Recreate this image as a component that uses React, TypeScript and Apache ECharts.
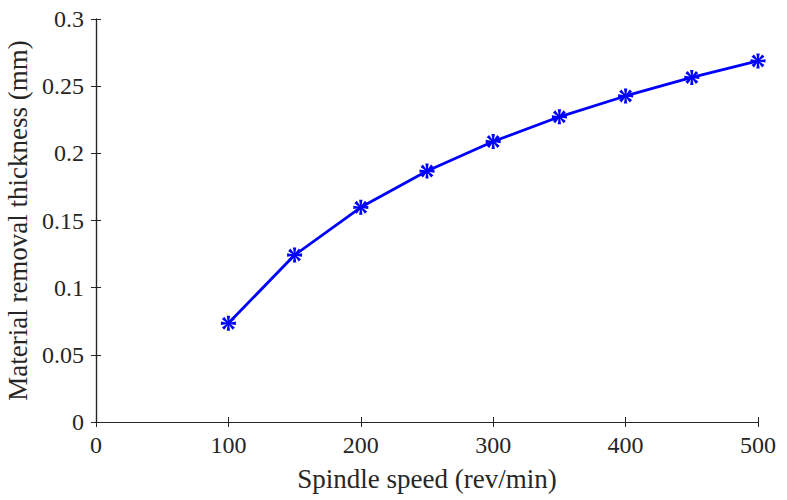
import React, { useEffect, useRef } from "react";
import * as echarts from "echarts";

const speeds = [100, 150, 200, 250, 300, 350, 400, 450, 500];
const thickness = [0.0735, 0.1243, 0.1598, 0.1868, 0.2088, 0.2272, 0.2427, 0.2565, 0.2688];
const xTitle = "Spindle speed (rev/min)";
const yTitle = "Material removal thickness (mm)";

function asteriskPath(): string {
  const arms = 8;
  const w = 0.22;
  const rin = 0.3;
  const pts: string[] = [];
  for (let k = 0; k < arms; k++) {
    const a = (k * Math.PI * 2) / arms;
    const ca = Math.cos(a), sa = Math.sin(a);
    const px = -sa, py = ca;
    pts.push(`${(ca + px * -w).toFixed(3)} ${(sa + py * -w).toFixed(3)}`);
    pts.push(`${(ca + px * w).toFixed(3)} ${(sa + py * w).toFixed(3)}`);
    const b = a + Math.PI / arms;
    pts.push(`${(Math.cos(b) * rin).toFixed(3)} ${(Math.sin(b) * rin).toFixed(3)}`);
  }
  return "path://M" + pts.join(" L") + " Z";
}

export default function App() {
  const ref = useRef<HTMLDivElement>(null);
  useEffect(() => {
    if (!ref.current) return;
    const chart = echarts.init(ref.current, undefined, { renderer: "svg" });
    const font = "'Liberation Serif', 'Times New Roman', serif";
    const axisLine = { show: true, lineStyle: { color: "#262626", width: 1.2 } };
    const tick = { show: true, inside: true, length: 5, lineStyle: { color: "#262626", width: 1 } };
    chart.setOption({
      animation: false,
      backgroundColor: "#ffffff",
      grid: { left: 96, right: 29, top: 19, bottom: 78, containLabel: false, outerBoundsMode: "none" },
      xAxis: [
        {
          type: "value",
          min: 0,
          max: 500,
          interval: 100,
          name: xTitle,
          nameLocation: "middle",
          nameGap: 43,
          nameTextStyle: { fontFamily: font, fontSize: 27, color: "#262626" },
          axisLine,
          axisTick: tick,
          axisLabel: { fontFamily: font, fontSize: 24, color: "#262626", margin: 11 },
          splitLine: { show: false },
        },
        {
          type: "value",
          position: "top",
          min: 0,
          max: 500,
          interval: 100,
          axisLine,
          axisTick: tick,
          axisLabel: { show: false },
          splitLine: { show: false },
        },
      ],
      yAxis: [
        {
          type: "value",
          min: 0,
          max: 0.3,
          interval: 0.05,
          name: yTitle,
          nameLocation: "middle",
          nameGap: 60,
          nameTextStyle: { fontFamily: font, fontSize: 27, color: "#262626" },
          axisLine,
          axisTick: tick,
          axisLabel: { fontFamily: font, fontSize: 24, color: "#262626", margin: 12 },
          splitLine: { show: false },
        },
        {
          type: "value",
          position: "right",
          min: 0,
          max: 0.3,
          interval: 0.05,
          axisLine,
          axisTick: tick,
          axisLabel: { show: false },
          splitLine: { show: false },
        },
      ],
      series: [
        {
          type: "line",
          data: speeds.map((s, i) => [s, thickness[i]]),
          symbol: asteriskPath(),
          symbolSize: 15,
          showAllSymbol: true,
          lineStyle: { color: "#0000ff", width: 2.8 },
          itemStyle: { color: "#0000ff" },
        },
      ],
    });
    return () => chart.dispose();
  }, []);
  return (
    <div
      ref={ref}
      style={{ position: "fixed", left: 0, top: 0, width: 787, height: 500, background: "#fff" }}
    />
  );
}
